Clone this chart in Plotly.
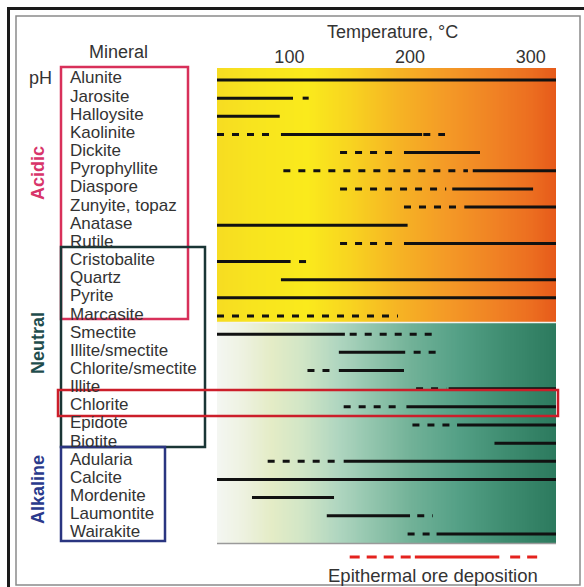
import numpy as np
import plotly.graph_objects as go

# ---------------- data ----------------
minerals = ["Alunite", "Jarosite", "Halloysite", "Kaolinite", "Dickite", "Pyrophyllite",
            "Diaspore", "Zunyite, topaz", "Anatase", "Rutile", "Cristobalite", "Quartz",
            "Pyrite", "Marcasite", "Smectite", "Illite/smectite", "Chlorite/smectite",
            "Illite", "Chlorite", "Epidote", "Biotite", "Adularia", "Calcite",
            "Mordenite", "Laumontite", "Wairakite"]

# temperature ranges (°C) where the mineral is stable (solid) / less common (dashed)
solid_ranges = {
    "Alunite": [(40, 321)],
    "Jarosite": [(40, 103)],
    "Halloysite": [(40, 92)],
    "Kaolinite": [(93, 210)],
    "Dickite": [(195, 258)],
    "Pyrophyllite": [(252, 321)],
    "Diaspore": [(235, 302)],
    "Zunyite, topaz": [(245, 321)],
    "Anatase": [(40, 198)],
    "Rutile": [(195, 321)],
    "Cristobalite": [(40, 101)],
    "Quartz": [(93, 321)],
    "Pyrite": [(40, 321)],
    "Marcasite": [],
    "Smectite": [(40, 146)],
    "Illite/smectite": [(141, 196)],
    "Chlorite/smectite": [(141, 195)],
    "Illite": [(232, 321)],
    "Chlorite": [(197, 321)],
    "Epidote": [(239, 321)],
    "Biotite": [(270, 321)],
    "Adularia": [(145, 321)],
    "Calcite": [(40, 321)],
    "Mordenite": [(69, 137)],
    "Laumontite": [(131, 200)],
    "Wairakite": [(222, 321)],
}
dashed_ranges = {
    "Jarosite": [(111, 116)],
    "Kaolinite": [(40, 88), (211, 229)],
    "Dickite": [(142, 190)],
    "Pyrophyllite": [(95, 248)],
    "Diaspore": [(142, 230)],
    "Zunyite, topaz": [(195, 242)],
    "Rutile": [(142, 190)],
    "Cristobalite": [(108, 114)],
    "Marcasite": [(40, 190)],
    "Smectite": [(150, 224)],
    "Illite/smectite": [(203, 224)],
    "Chlorite/smectite": [(115, 137)],
    "Illite": [(205, 230)],
    "Chlorite": [(145, 193)],
    "Epidote": [(202, 236)],
    "Adularia": [(82, 143)],
    "Laumontite": [(206, 219)],
    "Wairakite": [(198, 220)],
}
ore_solid = [(204, 274)]
ore_dashed = [(150, 201), (283, 306)]

temp_ticks = [100, 200, 300]
groups = ["Acidic", "Neutral", "Alkaline"]

# ---------------- layout helpers ----------------
W, H = 584, 587
ML, MR, MT, MB = 217, 28, 68, 20
PW, PH = W - ML - MR, H - MT - MB
T_MIN, T_MAX = 40, 321
Y_TOP, Y_BOT = -0.66, 25.5
MAIN_BOT_PX = 543
main_dom0 = (H - MB - MAIN_BOT_PX) / PH


def px(xp):
    return (xp - ML) / PW


def py(yp):
    return (H - MB - yp) / PH


def seg_xy(ranges_by_row):
    xs, ys = [], []
    for name, segs in ranges_by_row.items():
        r = minerals.index(name)
        for a, b in segs:
            xs += [a, b, None]
            ys += [r, r, None]
    return xs, ys


fig = go.Figure()

# background gradients (acid/neutral band and neutral/alkaline band)
edges = np.linspace(T_MIN, T_MAX, 282)
mids = (edges[:-1] + edges[1:]) / 2


def cs(stops):
    return [[(t - T_MIN) / (T_MAX - T_MIN), c] for t, c in stops]


warm = cs([(40, "#f6dc22"), (70, "#f8e41e"), (115, "#faea1c"), (150, "#f8d420"),
           (190, "#f6b424"), (230, "#f49a26"), (270, "#f08224"), (300, "#ec6e20"),
           (321, "#e65a1a")])
cool = cs([(40, "#f4f6f2"), (60, "#eef2e2"), (85, "#e4ecc6"), (110, "#d2e6c6"),
           (140, "#b0d6c0"), (170, "#90c4ac"), (200, "#72b298"), (240, "#54a086"),
           (280, "#3e8c70"), (321, "#2c7a5e")])
split = 13.35
fig.add_trace(go.Heatmap(x=edges, y=[Y_TOP, split], z=[mids], colorscale=warm,
                         zmin=T_MIN, zmax=T_MAX, showscale=False, hoverinfo="skip"))
fig.add_trace(go.Heatmap(x=edges, y=[split, Y_BOT], z=[mids], colorscale=cool,
                         zmin=T_MIN, zmax=T_MAX, showscale=False, hoverinfo="skip"))

# mineral ranges
xs, ys = seg_xy(solid_ranges)
fig.add_trace(go.Scatter(x=xs, y=ys, mode="lines", line=dict(color="#111", width=3),
                         hoverinfo="skip", showlegend=False))
xs, ys = seg_xy(dashed_ranges)
fig.add_trace(go.Scatter(x=xs, y=ys, mode="lines",
                         line=dict(color="#111", width=3, dash="7px,8px"),
                         hoverinfo="skip", showlegend=False))

# epithermal ore deposition bar (own small y axis below)
ox, oy = [], []
for a, b in ore_solid:
    ox += [a, b, None]
    oy += [0, 0, None]
fig.add_trace(go.Scatter(x=ox, y=oy, mode="lines", line=dict(color="#e4221e", width=3),
                         yaxis="y2", hoverinfo="skip", showlegend=False))
ox, oy = [], []
for a, b in ore_dashed:
    ox += [a, b, None]
    oy += [0, 0, None]
fig.add_trace(go.Scatter(x=ox, y=oy, mode="lines",
                         line=dict(color="#e4221e", width=3, dash="10px,7px"),
                         yaxis="y2", hoverinfo="skip", showlegend=False))

FONT = "Liberation Sans, Arial, sans-serif"
TXT = "#333333"

ann = []
for i, m in enumerate(minerals):
    ann.append(dict(x=px(68), y=i, xref="paper", yref="y", text=m, showarrow=False,
                    xanchor="left", yanchor="middle", yshift=2,
                    font=dict(family=FONT, size=17, color=TXT)))

group_pos = [("Acidic", 173, "#d8356a"), ("Neutral", 343, "#1f4d4d"),
             ("Alkaline", 490, "#2a3a8c")]
for g, yy, col in group_pos:
    ann.append(dict(x=px(38), y=py(yy), xref="paper", yref="paper", text="<b>%s</b>" % g,
                    showarrow=False, textangle=-90, xanchor="center", yanchor="middle",
                    font=dict(family=FONT, size=18, color=col)))


def label(x, y, text, size=18):
    return dict(x=px(x), y=py(y), xref="paper", yref="paper", text=text, showarrow=False,
                xanchor="center", yanchor="middle",
                font=dict(family=FONT, size=size, color=TXT))


ann.append(label(40, 78, "pH"))
ann.append(label(118, 52, "Mineral"))
ann.append(label(392, 32, "Temperature, °C"))
ann.append(label(433, 575, "Epithermal ore deposition", 18.5))


def rect(x0, y0, x1, y1, color, width):
    return dict(type="rect", xref="paper", yref="paper", x0=px(x0), x1=px(x1),
                y0=py(y0), y1=py(y1), line=dict(color=color, width=width),
                fillcolor="rgba(0,0,0,0)", layer="above")


def hline(x0, x1, y, color, width):
    return dict(type="line", xref="paper", yref="paper", x0=px(x0), x1=px(x1),
                y0=py(y), y1=py(y), line=dict(color=color, width=width), layer="above")


shapes = [
    rect(8.5, 8.5, 600, 600, "#1a1a1a", 3),
    rect(16, 16, 580, 585, "#8a8a8a", 1.5),
    hline(217, 556, 322.4, "#f4f4ee", 1.5),
    hline(217, 556, 543.5, "#9a9a9a", 1.5),
    rect(61, 67, 188, 319, "#d8305a", 2.5),
    rect(61, 247, 205, 447, "#1a3535", 2.5),
    rect(61, 447, 165, 541, "#2a3580", 2.5),
    rect(58, 390, 558, 416, "#cc1e2a", 2.5),
]

fig.update_layout(
    width=W, height=H,
    margin=dict(l=ML, r=MR, t=MT, b=MB, pad=0),
    paper_bgcolor="white", plot_bgcolor="white",
    showlegend=False,
    xaxis=dict(range=[T_MIN, T_MAX], side="top", anchor="y", tickvals=temp_ticks,
               ticks="", showgrid=False, zeroline=False, showline=False,
               tickfont=dict(family=FONT, size=18, color=TXT), ticklabelstandoff=0),
    yaxis=dict(range=[Y_BOT, Y_TOP], domain=[main_dom0, 1], showticklabels=False,
               ticks="", showgrid=False, zeroline=False, showline=False),
    yaxis2=dict(range=[-1, 1], domain=[0, 0.04], showticklabels=False, ticks="",
                showgrid=False, zeroline=False, showline=False, anchor="x"),
    annotations=ann,
    shapes=shapes,
)

fig.write_html("out.html")
